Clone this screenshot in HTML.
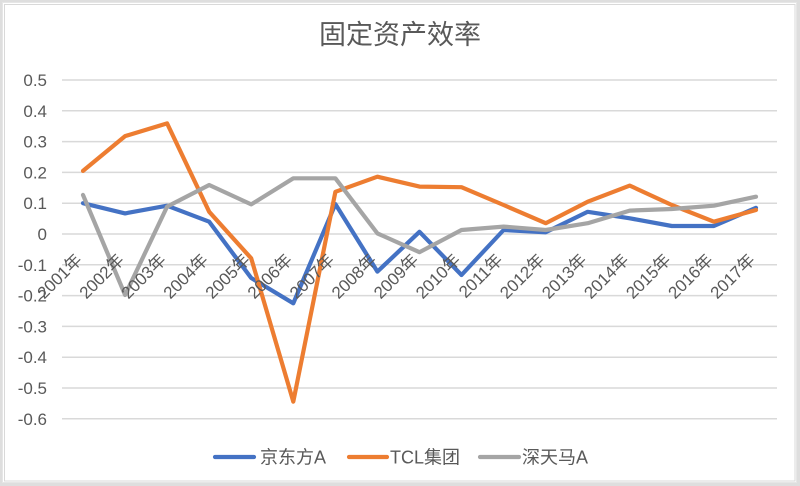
<!DOCTYPE html>
<html><head><meta charset="utf-8">
<style>
html,body{margin:0;padding:0;background:#fff;}
body{width:800px;height:486px;overflow:hidden;}
svg{display:block;}
text{font-family:"Liberation Sans","Noto Sans CJK SC",sans-serif;fill:#595959;}
</style></head>
<body>
<svg width="800" height="486" viewBox="0 0 800 486" xmlns="http://www.w3.org/2000/svg">
<rect x="0" y="0" width="800" height="486" fill="#dedede"/>
<rect x="2.5" y="2.5" width="794" height="480" fill="#fff" stroke="#e6e6e6" stroke-width="1"/>
<rect x="4.5" y="4.5" width="790.5" height="476.5" fill="#fff" stroke="#d9d9d9" stroke-width="1"/>

<text x="400" y="44" text-anchor="middle" font-size="27">固定资产效率</text>

<g stroke="#d9d9d9" stroke-width="1.5">
<line x1="62" x2="777" y1="80" y2="80"/>
<line x1="62" x2="777" y1="110.8" y2="110.8"/>
<line x1="62" x2="777" y1="141.6" y2="141.6"/>
<line x1="62" x2="777" y1="172.4" y2="172.4"/>
<line x1="62" x2="777" y1="203.2" y2="203.2"/>
<line x1="62" x2="777" y1="234" y2="234"/>
<line x1="62" x2="777" y1="264.8" y2="264.8"/>
<line x1="62" x2="777" y1="295.6" y2="295.6"/>
<line x1="62" x2="777" y1="326.4" y2="326.4"/>
<line x1="62" x2="777" y1="357.2" y2="357.2"/>
<line x1="62" x2="777" y1="388" y2="388"/>
<line x1="62" x2="777" y1="418.8" y2="418.8"/>
</g>

<g font-size="17" text-anchor="end">
<text x="47" y="86">0.5</text>
<text x="47" y="116.8">0.4</text>
<text x="47" y="147.6">0.3</text>
<text x="47" y="178.4">0.2</text>
<text x="47" y="209.2">0.1</text>
<text x="47" y="240">0</text>
<text x="47" y="270.8">-0.1</text>
<text x="47" y="301.6">-0.2</text>
<text x="47" y="332.4">-0.3</text>
<text x="47" y="363.2">-0.4</text>
<text x="47" y="394">-0.5</text>
<text x="47" y="424.8">-0.6</text>
</g>

<g fill="none" stroke-width="4.2" stroke-linejoin="round" stroke-linecap="round">
<polyline stroke="#4472C4" points="83,203.2 125.1,213.4 167.1,205.7 209.2,221.7 251.2,278 293.3,303.3 335.4,204.1 377.4,271.6 419.5,231.8 461.5,275 503.6,230 545.7,232.3 587.7,211.8 629.8,218.3 671.8,226 713.9,226 756,207.8"/>
<polyline stroke="#ED7D31" points="83,170.9 125.1,136.1 167.1,123.4 209.2,211.8 251.2,258.3 293.3,401.6 335.4,191.8 377.4,176.7 419.5,186.6 461.5,187.2 503.6,205 545.7,223.2 587.7,201.7 629.8,185.6 671.8,205 713.9,221.7 756,210"/>
<polyline stroke="#A5A5A5" points="83,194.9 125.1,295 167.1,206.6 209.2,185 251.2,204.4 293.3,178.3 335.4,178.3 377.4,233.4 419.5,252.2 461.5,230 503.6,226.6 545.7,230 587.7,223.2 629.8,210.6 671.8,209 713.9,205.7 756,196.7"/>
</g>

<g font-size="17" text-anchor="end">
<text transform="translate(83,261) rotate(-45)">2001年</text>
<text transform="translate(125.1,261) rotate(-45)">2002年</text>
<text transform="translate(167.1,261) rotate(-45)">2003年</text>
<text transform="translate(209.2,261) rotate(-45)">2004年</text>
<text transform="translate(251.2,261) rotate(-45)">2005年</text>
<text transform="translate(293.3,261) rotate(-45)">2006年</text>
<text transform="translate(335.4,261) rotate(-45)">2007年</text>
<text transform="translate(377.4,261) rotate(-45)">2008年</text>
<text transform="translate(419.5,261) rotate(-45)">2009年</text>
<text transform="translate(461.5,261) rotate(-45)">2010年</text>
<text transform="translate(503.6,261) rotate(-45)">2011年</text>
<text transform="translate(545.7,261) rotate(-45)">2012年</text>
<text transform="translate(587.7,261) rotate(-45)">2013年</text>
<text transform="translate(629.8,261) rotate(-45)">2014年</text>
<text transform="translate(671.8,261) rotate(-45)">2015年</text>
<text transform="translate(713.9,261) rotate(-45)">2016年</text>
<text transform="translate(756,261) rotate(-45)">2017年</text>
</g>

<g stroke-width="4.2" stroke-linecap="round">
<line x1="215" x2="254" y1="457" y2="457" stroke="#4472C4"/>
<line x1="349" x2="387" y1="457" y2="457" stroke="#ED7D31"/>
<line x1="480" x2="519" y1="457" y2="457" stroke="#A5A5A5"/>
</g>
<g font-size="18">
<text x="260" y="463.5">京东方A</text>
<text x="390" y="463.5">TCL集团</text>
<text x="522" y="463.5">深天马A</text>
</g>
</svg>
</body></html>
